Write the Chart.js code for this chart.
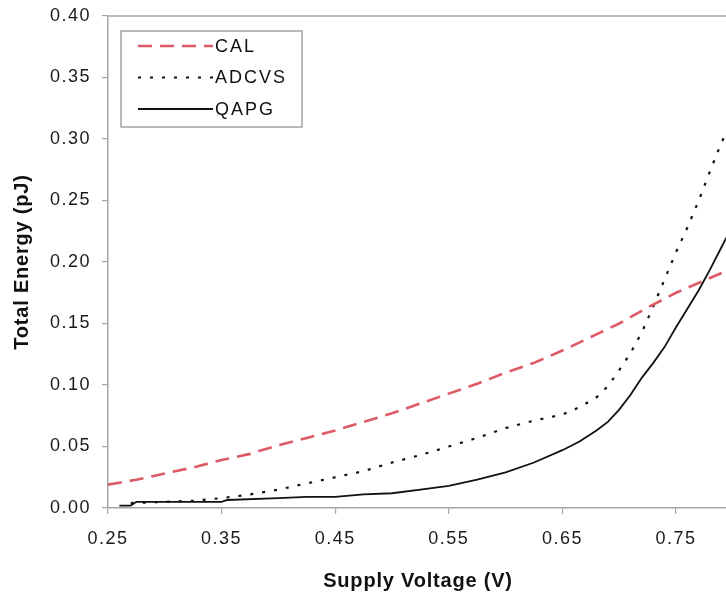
<!DOCTYPE html>
<html>
<head>
<meta charset="utf-8">
<script src="https://cdn.jsdelivr.net/npm/chart.js@4/dist/chart.umd.min.js"></script>
<style>
  html, body { margin: 0; padding: 0; background: #fff; overflow: hidden; }
  #wrap { width: 726px; height: 599px; }
</style>
</head>
<body>
<div id="wrap"><canvas id="c" width="726" height="599"></canvas></div>
<script>
// Supply voltage (V) and total energy (pJ) for each scheme
const calVoltage = [0.25, 0.275, 0.30, 0.325, 0.35, 0.375, 0.40, 0.425, 0.45, 0.475, 0.50, 0.525, 0.55, 0.575, 0.60, 0.625, 0.65, 0.675, 0.70, 0.725, 0.75, 0.775, 0.80];
const calEnergy  = [0.019, 0.023, 0.028, 0.033, 0.039, 0.044, 0.051, 0.057, 0.063, 0.070, 0.077, 0.085, 0.093, 0.101, 0.110, 0.118, 0.128, 0.139, 0.150, 0.163, 0.175, 0.185, 0.195];

const adcvsVoltage = [0.27, 0.30, 0.325, 0.35, 0.375, 0.40, 0.425, 0.45, 0.475, 0.50, 0.525, 0.55, 0.575, 0.60, 0.625, 0.65, 0.665, 0.68, 0.69, 0.70, 0.71, 0.72, 0.73, 0.74, 0.75, 0.76, 0.77, 0.78, 0.79, 0.80];
const adcvsEnergy  = [0.004, 0.005, 0.006, 0.008, 0.011, 0.015, 0.020, 0.025, 0.030, 0.037, 0.043, 0.050, 0.057, 0.065, 0.071, 0.076, 0.082, 0.090, 0.099, 0.112, 0.126, 0.143, 0.164, 0.186, 0.208, 0.228, 0.250, 0.274, 0.297, 0.316];

const qapgVoltage = [0.26, 0.27, 0.275, 0.30, 0.325, 0.35, 0.355, 0.40, 0.425, 0.45, 0.475, 0.50, 0.525, 0.55, 0.575, 0.60, 0.625, 0.65, 0.665, 0.68, 0.69, 0.70, 0.71, 0.72, 0.73, 0.74, 0.75, 0.76, 0.77, 0.78, 0.79, 0.80];
const qapgEnergy  = [0.002, 0.002, 0.005, 0.005, 0.005, 0.005, 0.0065, 0.008, 0.009, 0.009, 0.011, 0.012, 0.015, 0.018, 0.023, 0.029, 0.037, 0.047, 0.054, 0.063, 0.070, 0.080, 0.092, 0.106, 0.118, 0.131, 0.147, 0.162, 0.177, 0.194, 0.212, 0.230];

const seriesNames = ['CAL', 'ADCVS', 'QAPG'];
const xTickValues = [0.25, 0.35, 0.45, 0.55, 0.65, 0.75];

const pts = (xs, ys) => xs.map((x, i) => ({ x, y: ys[i] }));

const FONT = "'Liberation Sans', Arial, sans-serif";
const AXIS_GREY = '#a6a6a6';

// Axis titles, top border and boxed legend with letter-spaced text
const decor = {
  id: 'decor',
  beforeDraw(chart) {
    chart.ctx.letterSpacing = '1.5px';
  },
  afterDraw(chart) {
    const ctx = chart.ctx;
    const a = chart.chartArea;
    ctx.save();
    // top frame line
    ctx.strokeStyle = AXIS_GREY;
    ctx.lineWidth = 1.5;
    ctx.beginPath();
    ctx.moveTo(a.left, a.top);
    ctx.lineTo(chart.width, a.top);
    ctx.stroke();

    // axis titles
    ctx.fillStyle = '#111';
    ctx.font = 'bold 20px ' + FONT;
    ctx.letterSpacing = '0.8px';
    ctx.textAlign = 'center';
    ctx.textBaseline = 'middle';
    ctx.fillText('Supply Voltage (V)', 418, 581);
    ctx.save();
    ctx.translate(22, 262);
    ctx.rotate(-Math.PI / 2);
    ctx.fillText('Total Energy (pJ)', 0, 0);
    ctx.restore();

    // legend box
    const lx = a.left + 13, ly = a.top + 15, lw = 181, lh = 96;
    ctx.fillStyle = '#fff';
    ctx.fillRect(lx, ly, lw, lh);
    ctx.strokeStyle = '#8c8c8c';
    ctx.lineWidth = 1.2;
    ctx.strokeRect(lx, ly, lw, lh);
    ctx.font = '18px ' + FONT;
    ctx.letterSpacing = '2px';
    ctx.textAlign = 'left';
    chart.data.datasets.forEach((ds, i) => {
      const y = ly + 15 + i * 31.5;
      ctx.save();
      ctx.strokeStyle = ds.borderColor;
      ctx.lineWidth = ds.borderWidth;
      ctx.setLineDash(ds.borderDash || []);
      ctx.lineCap = ds.borderCapStyle || 'butt';
      ctx.beginPath();
      ctx.moveTo(lx + 17, y);
      ctx.lineTo(lx + 92, y);
      ctx.stroke();
      ctx.restore();
      ctx.fillStyle = '#111';
      ctx.fillText(ds.label, lx + 94, y + 1);
    });
    ctx.restore();
  }
};

new Chart(document.getElementById('c'), {
  type: 'line',
  data: {
    datasets: [
      {
        label: seriesNames[0],
        data: pts(calVoltage, calEnergy),
        borderColor: '#dd5a66',
        borderWidth: 2.6,
        borderDash: [14, 8],
        pointRadius: 0,
        tension: 0
      },
      {
        label: seriesNames[1],
        data: pts(adcvsVoltage, adcvsEnergy),
        borderColor: '#111',
        borderWidth: 2.2,
        borderDash: [3, 9],
        pointRadius: 0,
        tension: 0
      },
      {
        label: seriesNames[2],
        data: pts(qapgVoltage, qapgEnergy),
        borderColor: '#111',
        borderWidth: 1.8,
        pointRadius: 0,
        tension: 0
      }
    ]
  },
  options: {
    responsive: false,
    animation: false,
    devicePixelRatio: 1,
    layout: { padding: { top: 16, right: 0, bottom: 0, left: 0 } },
    plugins: { legend: { display: false }, tooltip: { enabled: false } },
    scales: {
      x: {
        type: 'linear',
        min: 0.25,
        max: 0.794,
        afterBuildTicks(scale) { scale.ticks = xTickValues.map(v => ({ value: v })); },
        afterFit(scale) { scale.height = 91; },
        ticks: {
          color: '#1a1a1a',
          font: { family: FONT, size: 18 },
          padding: 14,
          maxRotation: 0,
          callback: v => v.toFixed(2)
        },
        grid: { drawOnChartArea: false, drawTicks: true, tickLength: 6, color: AXIS_GREY, lineWidth: 1.2 },
        border: { color: AXIS_GREY, width: 1.5 }
      },
      y: {
        min: 0,
        max: 0.4,
        afterFit(scale) {
          scale.width = 108;
          scale.paddingTop = 0;
          scale.paddingBottom = 0;
        },
        ticks: {
          stepSize: 0.05,
          color: '#1a1a1a',
          font: { family: FONT, size: 18 },
          padding: 11,
          callback: v => v.toFixed(2)
        },
        grid: { drawOnChartArea: false, drawTicks: true, tickLength: 6, color: AXIS_GREY, lineWidth: 1.2 },
        border: { color: AXIS_GREY, width: 1.5 }
      }
    }
  },
  plugins: [decor]
});
</script>
</body>
</html>
